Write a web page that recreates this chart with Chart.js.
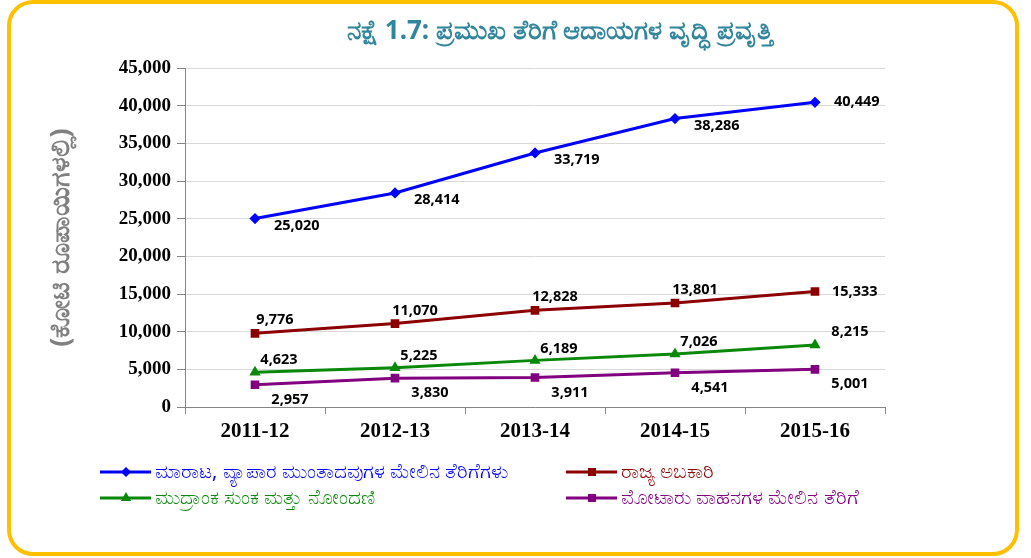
<!DOCTYPE html>
<html>
<head>
<meta charset="utf-8">
<script src="https://cdn.jsdelivr.net/npm/chart.js@4"></script>
<style>
  html, body { margin: 0; padding: 0; background: #fff; }
  #box {
    position: absolute; left: 7px; top: 0px;
    width: 1012px; height: 556px; box-sizing: border-box;
    border: 4px solid #FFC000; border-radius: 26px;
  }
  #wrap { position: absolute; left: 0; top: 0; width: 1004px; height: 548px; }
</style>
</head>
<body>
<div id="box"><div id="wrap"><canvas id="grafico"></canvas></div></div>
<script>
const titulo = "ನಕ್ಷೆ 1.7: ಪ್ರಮುಖ ತೆರಿಗೆ ಆದಾಯಗಳ ವೃದ್ಧಿ ಪ್ರವೃತ್ತಿ";
const anos = ["2011-12", "2012-13", "2013-14", "2014-15", "2015-16"];
const vendas = [25020, 28414, 33719, 38286, 40449];
const abkari = [9776, 11070, 12828, 13801, 15333];
const mudranka = [4623, 5225, 6189, 7026, 8215];
const motor = [2957, 3830, 3911, 4541, 5001];
const nomes = [
  "ಮಾರಾಟ, ವ್ಯಾಪಾರ ಮುಂತಾದವುಗಳ ಮೇಲಿನ ತೆರಿಗೆಗಳು",
  "ರಾಜ್ಯ ಅಬಕಾರಿ",
  "ಮುದ್ರಾಂಕ ಸುಂಕ ಮತ್ತು ನೋಂದಣಿ",
  "ಮೋಟಾರು ವಾಹನಗಳ ಮೇಲಿನ ತೆರಿಗೆ"
];
const yTicks = [0, 5000, 10000, 15000, 20000, 25000, 30000, 35000, 40000, 45000];

const fmt = v => v.toLocaleString("en-US");

// título desenhado à mão (centro deslocado para a direita)
const cabecalho = {
  id: "cabecalho",
  afterDraw(chart) {
    const ctx = chart.ctx;
    ctx.save();
    ctx.font = "bold 26px 'Noto Sans', sans-serif";
    ctx.fillStyle = "#31859C";
    ctx.textAlign = "center";
    ctx.textBaseline = "middle";
    ctx.fillText(titulo, 549, 28);
    ctx.restore();
  }
};

// rótulos dos pontos
const rotulos = {
  id: "rotulos",
  afterDatasetsDraw(chart) {
    const ctx = chart.ctx;
    ctx.save();
    ctx.font = "bold 14.5px 'Open Sans', sans-serif";
    ctx.fillStyle = "#000";
    ctx.textBaseline = "middle";
    chart.data.datasets.forEach((ds, i) => {
      const meta = chart.getDatasetMeta(i);
      meta.data.forEach((pt, j) => {
        let p = ds.rotulo;
        if (j === meta.data.length - 1 && ds.rotuloFim) p = ds.rotuloFim;
        ctx.textAlign = p.align;
        ctx.fillText(fmt(ds.data[j]), pt.x + p.dx, pt.y + p.dy);
      });
    });
    ctx.restore();
  }
};

// legenda em duas colunas
const legenda = {
  id: "legenda",
  afterDraw(chart) {
    const ctx = chart.ctx;
    const pos = [[89, 468], [555, 468], [89, 494], [555, 494]];
    ctx.save();
    chart.data.datasets.forEach((ds, i) => {
      const [x, y] = pos[i];
      ctx.strokeStyle = ds.borderColor;
      ctx.lineWidth = 3;
      ctx.beginPath();
      ctx.moveTo(x, y);
      ctx.lineTo(x + 51, y);
      ctx.stroke();
      ctx.fillStyle = ds.borderColor;
      Chart.helpers.drawPoint(ctx, {
        pointStyle: ds.pointStyle, radius: ds.pointRadius - 0.5, borderWidth: 1, rotation: 0
      }, x + 26, y);
      ctx.font = "20px 'Noto Sans', sans-serif";
      ctx.textAlign = "left";
      ctx.textBaseline = "middle";
      ctx.fillText(nomes[i], x + 55, y);
    });
    ctx.restore();
  }
};

function serie(label, data, cor, estilo, raio, rotulo, rotuloFim) {
  return {
    label: label, data: data,
    borderColor: cor, backgroundColor: cor,
    pointBackgroundColor: cor, pointBorderColor: cor,
    borderWidth: 3, pointStyle: estilo, pointRadius: raio, pointHoverRadius: raio,
    tension: 0, rotulo: rotulo, rotuloFim: rotuloFim
  };
}

new Chart(document.getElementById("grafico"), {
  type: "line",
  data: {
    labels: anos,
    datasets: [
      serie(nomes[0], vendas, "#0000FF", "rectRot", 3.5, { align: "left", dx: 19, dy: 7 }, { align: "left", dx: 19, dy: 0 }),
      serie(nomes[1], abkari, "#8B0000", "rect", 4, { align: "center", dx: 20, dy: -13 }, { align: "left", dx: 17, dy: 0 }),
      serie(nomes[2], mudranka, "#0A880A", "triangle", 3.5, { align: "center", dx: 24, dy: -12 }, { align: "center", dx: 35, dy: -13 }),
      serie(nomes[3], motor, "#800080", "rect", 4, { align: "center", dx: 35, dy: 15 }, null)
    ]
  },
  options: {
    responsive: true,
    maintainAspectRatio: false,
    animation: false,
    layout: { padding: { left: 0, right: 130, top: 64, bottom: 100 } },
    plugins: {
      legend: { display: false },
      tooltip: { enabled: false },
      title: { display: false }
    },
    scales: {
      x: {
        offset: true,
        grid: { offset: true, drawOnChartArea: false, drawTicks: true, tickLength: 7, tickColor: "#868686" },
        border: { color: "#868686", width: 1 },
        ticks: { color: "#000", font: { family: "'Liberation Serif', serif", size: 21, weight: "bold" }, padding: 5 },
        afterFit: s => { s.height = 45; }
      },
      y: {
        min: 0, max: 45000,
        afterBuildTicks: s => { s.ticks = yTicks.map(v => ({ value: v })); },
        grid: { color: "#D9D9D9", tickLength: 8, tickColor: "#868686" },
        border: { color: "#868686", width: 1 },
        ticks: {
          color: "#000", padding: 6,
          font: { family: "'Liberation Serif', serif", size: 19, weight: "bold" },
          callback: v => fmt(v)
        },
        title: {
          display: true,
          text: "(ಕೋಟಿ ರೂಪಾಯಿಗಳಲ್ಲಿ)",
          color: "#808080",
          font: { family: "'Noto Sans', sans-serif", size: 27, weight: "bold", lineHeight: 1.2 },
          padding: { top: 34, bottom: 0 }
        },
        afterFit: s => { s.width = 174; }
      }
    }
  },
  plugins: [cabecalho, rotulos, legenda]
});
</script>
</body>
</html>
